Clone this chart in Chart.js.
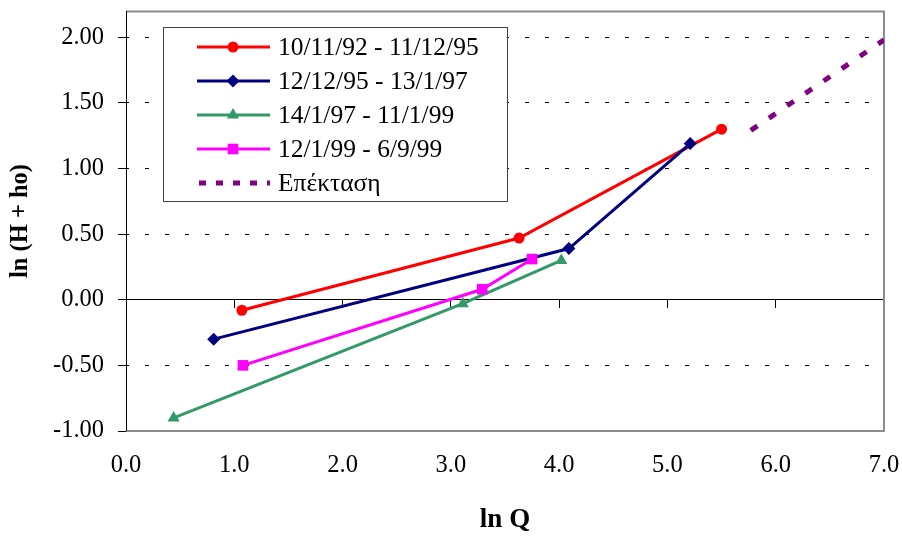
<!DOCTYPE html>
<html>
<head>
<meta charset="utf-8">
<script src="https://cdn.jsdelivr.net/npm/chart.js@4"></script>
<style>
html,body{margin:0;padding:0;background:#fff;}
#wrap{width:902px;height:536px;position:relative;}
</style>
</head>
<body>
<div id="wrap"><canvas id="c" width="902" height="536"></canvas></div>
<script>
// ---- data ----
const seriesLabels = ["10/11/92 - 11/12/95", "12/12/95 - 13/1/97", "14/1/97 - 11/1/99", "12/1/99 - 6/9/99", "Επέκταση"];
const redX = [1.07, 3.63, 5.50];
const redY = [-0.08, 0.47, 1.30];
const blueX = [0.81, 4.09, 5.21];
const blueY = [-0.30, 0.39, 1.19];
const greenX = [0.44, 3.11, 4.02];
const greenY = [-0.90, -0.03, 0.30];
const magentaX = [1.08, 3.29, 3.75];
const magentaY = [-0.50, 0.08, 0.31];
const extX = [5.77, 7.0];
const extY = [1.29, 1.98];
const xTicks = [0, 1, 2, 3, 4, 5, 6, 7];
const yTicks = [-1, -0.5, 0, 0.5, 1, 1.5, 2];

const FONT = "'Liberation Serif', 'Times New Roman', serif";
const pts = (xs, ys) => xs.map((x, i) => ({x: x, y: ys[i]}));

const datasets = [
  {label: seriesLabels[0], data: pts(redX, redY), borderColor: '#FF0000', backgroundColor: '#FF0000', pointStyle: 'circle', pointRadius: 5.5, borderWidth: 3, order: 5},
  {label: seriesLabels[1], data: pts(blueX, blueY), borderColor: '#000080', backgroundColor: '#000080', pointStyle: 'rectRot', pointRadius: 6.5, borderWidth: 3, order: 4},
  {label: seriesLabels[2], data: pts(greenX, greenY), borderColor: '#339966', backgroundColor: '#339966', pointStyle: 'triangle', pointRadius: 7, borderWidth: 3, order: 3},
  {label: seriesLabels[3], data: pts(magentaX, magentaY), borderColor: '#FF00FF', backgroundColor: '#FF00FF', pointStyle: 'rect', pointRadius: 7.5, borderWidth: 3, order: 2},
  {label: seriesLabels[4], data: pts(extX, extY), borderColor: '#800080', backgroundColor: '#800080', pointRadius: 0, borderWidth: 5, borderDash: [8, 14], order: 1}
];
datasets.forEach(d => { d.showLine = true; d.pointBorderWidth = 0; d.pointHoverRadius = d.pointRadius; d.fill = false; d.tension = 0; });

function drawMarker(ctx, style, x, y, r, color) {
  ctx.save();
  ctx.fillStyle = color;
  ctx.beginPath();
  if (style === 'circle') {
    ctx.arc(x, y, r, 0, Math.PI * 2);
  } else if (style === 'rectRot') {
    ctx.moveTo(x, y - r); ctx.lineTo(x + r, y); ctx.lineTo(x, y + r); ctx.lineTo(x - r, y); ctx.closePath();
  } else if (style === 'triangle') {
    const s = r * Math.sin(Math.PI / 3);
    ctx.moveTo(x, y - r); ctx.lineTo(x + s, y + r / 2); ctx.lineTo(x - s, y + r / 2); ctx.closePath();
  } else if (style === 'rect') {
    const h = r * Math.SQRT1_2;
    ctx.rect(x - h, y - h, 2 * h, 2 * h);
  }
  ctx.fill();
  ctx.restore();
}

const framePlugin = {
  id: 'frame',
  beforeDatasetsDraw(chart) {
    const {ctx, chartArea: a} = chart;
    ctx.save();
    ctx.strokeStyle = '#8c8c8c';
    ctx.lineWidth = 2;
    ctx.beginPath();
    ctx.moveTo(a.left, a.top + 0.5);
    ctx.lineTo(a.right, a.top + 0.5);
    ctx.lineTo(a.right, a.bottom);
    ctx.lineTo(a.left, a.bottom);
    ctx.stroke();
    ctx.strokeStyle = '#000';
    ctx.lineWidth = 1;
    ctx.beginPath();
    ctx.moveTo(a.left + 0.5, a.top);
    ctx.lineTo(a.left + 0.5, a.bottom);
    ctx.stroke();
    ctx.restore();
  }
};

const legendPlugin = {
  id: 'boxLegend',
  afterDraw(chart) {
    const ctx = chart.ctx;
    const L = 163, T = 27, W = 344, H = 174;
    ctx.save();
    ctx.fillStyle = '#fff';
    ctx.fillRect(L, T, W, H);
    ctx.strokeStyle = '#444';
    ctx.lineWidth = 1;
    ctx.strokeRect(L + 0.5, T + 0.5, W, H);
    const rowY0 = 47, rowStep = 34;
    chart.data.datasets.forEach((d, i) => {
      const y = rowY0 + i * rowStep;
      ctx.save();
      ctx.strokeStyle = d.borderColor;
      ctx.lineWidth = d.borderDash ? 5 : 3;
      ctx.setLineDash(d.borderDash ? [7, 10] : []);
      ctx.beginPath();
      ctx.moveTo(d.borderDash ? 199 : 197, y);
      ctx.lineTo(270, y);
      ctx.stroke();
      ctx.restore();
      if (d.pointRadius > 0) drawMarker(ctx, d.pointStyle, 233, y, d.pointRadius, d.backgroundColor);
      ctx.fillStyle = '#000';
      ctx.font = '25.5px ' + FONT;
      ctx.textBaseline = 'middle';
      ctx.textAlign = 'left';
      ctx.fillText(d.label, 278, y + 1);
    });
    ctx.restore();
  }
};

new Chart(document.getElementById('c'), {
  type: 'scatter',
  data: {datasets: datasets},
  plugins: [framePlugin, legendPlugin],
  options: {
    responsive: false,
    animation: false,
    events: [],
    layout: {padding: {top: 11, right: 18, left: 0, bottom: 0}},
    plugins: {legend: {display: false}, tooltip: {enabled: false}},
    scales: {
      x: {
        type: 'linear', position: 'bottom', min: 0, max: 7,
        afterBuildTicks: s => { s.ticks = xTicks.map(v => ({value: v})); },
        ticks: {callback: v => Number(v).toFixed(1), font: {family: FONT, size: 24.5}, color: '#000', padding: 20, maxRotation: 0},
        grid: {display: false, drawTicks: false},
        border: {display: false},
        title: {display: true, text: 'ln Q', font: {family: FONT, size: 27, weight: 'bold'}, color: '#000', padding: {top: 0, bottom: 0}},
        afterFit: s => { s.height = 105; s.paddingLeft = 0; s.paddingRight = 0; }
      },
      x0: {
        type: 'linear', position: {y: 0}, min: 0, max: 7,
        afterBuildTicks: s => { s.ticks = xTicks.map(v => ({value: v})); },
        ticks: {display: false},
        grid: {display: true, drawOnChartArea: false, drawTicks: true, tickLength: 8, tickColor: '#000', tickWidth: 1},
        border: {display: true, color: '#000', width: 1},
        afterFit: s => { s.paddingLeft = 0; s.paddingRight = 0; }
      },
      y: {
        type: 'linear', position: 'left', min: -1, max: 2.2,
        afterBuildTicks: s => { s.ticks = yTicks.map(v => ({value: v})); },
        ticks: {callback: v => Number(v).toFixed(2), font: {family: FONT, size: 24.5}, color: '#000', padding: 14},
        grid: {
          color: c => (c.tick && c.tick.value === -1) ? 'rgba(0,0,0,0)' : '#000',
          lineWidth: 1, drawTicks: true, tickLength: 8, tickColor: '#000', tickWidth: 1
        },
        border: {display: true, color: '#000', width: 1, dash: c => (c.tick && c.tick.value !== 0) ? [4, 16] : [], dashOffset: -18},
        title: {display: true, text: 'ln (H + ho)', font: {family: FONT, size: 24.5, weight: 'bold'}, color: '#000', padding: {top: 6, bottom: 0}},
        afterFit: s => { s.width = 126; s.paddingTop = 0; s.paddingBottom = 0; }
      }
    }
  }
});
</script>
</body>
</html>
